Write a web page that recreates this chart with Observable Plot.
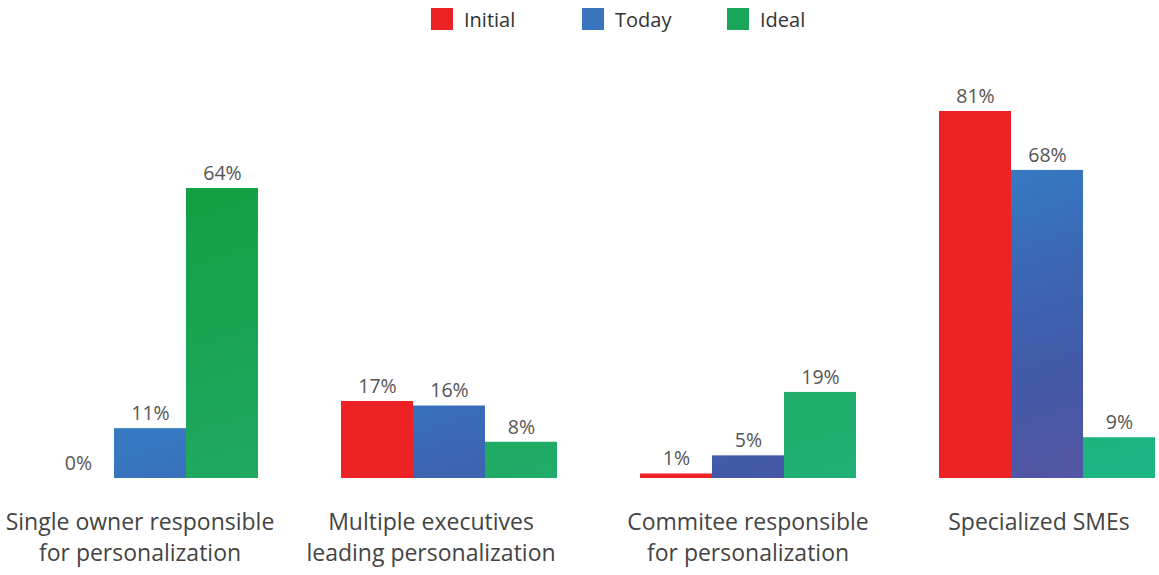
<!DOCTYPE html>
<html>
<head>
<meta charset="utf-8">
<script src="https://cdn.jsdelivr.net/npm/d3@7"></script>
<script src="https://cdn.jsdelivr.net/npm/@observablehq/plot@0.6"></script>
<style>
  body { margin: 0; background: #fff; font-family: "Open Sans", sans-serif; }
  #legend { position: relative; height: 40px; width: 1159px; }
  .item { position: absolute; top: 8px; height: 22px; display: flex; align-items: center; }
  .sw { width: 22px; height: 22px; margin-right: 11px; }
  .lab { font-size: 20px; color: #333; }
</style>
</head>
<body>
<div id="legend"></div>
<div id="chart"></div>
<script>
const groups = [
  "Single owner responsible\nfor personalization",
  "Multiple executives\nleading personalization",
  "Commitee responsible\nfor personalization",
  "Specialized SMEs"
];
const series = ["Initial", "Today", "Ideal"];
const initial = [0, 17, 1, 81];
const today = [11, 16, 5, 68];
const ideal = [64, 8, 19, 9];
const colors = ["#ec2224", "#3a74bd", "#1aa658"];

const data = [];
groups.forEach((g, i) => {
  data.push({group: g, series: "Initial", value: initial[i]});
  data.push({group: g, series: "Today", value: today[i]});
  data.push({group: g, series: "Ideal", value: ideal[i]});
});

// legend
const legend = document.getElementById("legend");
const legendLeft = [431, 582, 727];
series.forEach((s, i) => {
  const it = document.createElement("div");
  it.className = "item";
  it.style.left = legendLeft[i] + "px";
  it.innerHTML = `<div class="sw" style="background:${colors[i]}"></div><span class="lab">${s}</span>`;
  legend.appendChild(it);
});

// horizontal nudge of each category label relative to its group centre (layout only)
const labelShift = [-10, -18, 0, -8];

const plot = Plot.plot({
  width: 1159,
  height: 535,
  marginLeft: 41,
  marginRight: 3,
  marginTop: 71,
  marginBottom: 97,
  style: {fontFamily: "'Open Sans', sans-serif", background: "#fff"},
  fx: {domain: groups, paddingInner: 0.2734, paddingOuter: 0, label: null, axis: null},
  x: {domain: series, padding: 0, axis: null},
  y: {domain: [0, d3.max(data, d => d.value)], axis: null},
  color: {domain: series, range: colors},
  marks: [
    Plot.barY(data, {fx: "group", x: "series", y: "value", fill: "series"}),
    Plot.text(data, {fx: "group", x: "series", y: "value", text: d => d.value + "%", dy: -15, fontSize: 19.5, fill: "#555"}),
    ...groups.map((g, i) => Plot.text([g], {
      fx: d => d, text: d => d, frameAnchor: "bottom", lineAnchor: "top",
      dy: 29, dx: labelShift[i], fontSize: 23, lineHeight: 1.35, fill: "#444"
    }))
  ]
});
document.getElementById("chart").appendChild(plot);

// gradients (in root SVG coordinates)
const svgNS = "http://www.w3.org/2000/svg";
const defs = document.createElementNS(svgNS, "defs");
plot.insertBefore(defs, plot.firstChild);
const grads = {
  [colors[1]]: {p0: [137.6, 408.5], p1: [223.6, 688.9], stops: [[0, "#3678c1"], [0.28, "#3b68b5"], [0.67, "#4259a8"], [1, "#5256a4"]]},
  [colors[2]]: {p0: [75.2, 205.3], p1: [225.2, 694.2], stops: [[0, "#13a045"], [0.5, "#1fa860"], [0.78, "#20ad6c"], [1, "#1db584"]]}
};
let gid = 0;
plot.querySelectorAll("g[aria-label='bar'] rect").forEach(r => {
  const f = (r.getAttribute("fill") || "").toLowerCase();
  const g = grads[f];
  if (!g) return;
  const m = r.getCTM();
  const id = "grad" + (gid++);
  const lg = document.createElementNS(svgNS, "linearGradient");
  lg.setAttribute("id", id);
  lg.setAttribute("gradientUnits", "userSpaceOnUse");
  lg.setAttribute("x1", g.p0[0] - m.e);
  lg.setAttribute("y1", g.p0[1] - m.f);
  lg.setAttribute("x2", g.p1[0] - m.e);
  lg.setAttribute("y2", g.p1[1] - m.f);
  g.stops.forEach(([o, c]) => {
    const s = document.createElementNS(svgNS, "stop");
    s.setAttribute("offset", o);
    s.setAttribute("stop-color", c);
    lg.appendChild(s);
  });
  defs.appendChild(lg);
  r.setAttribute("fill", `url(#${id})`);
});
</script>
</body>
</html>
